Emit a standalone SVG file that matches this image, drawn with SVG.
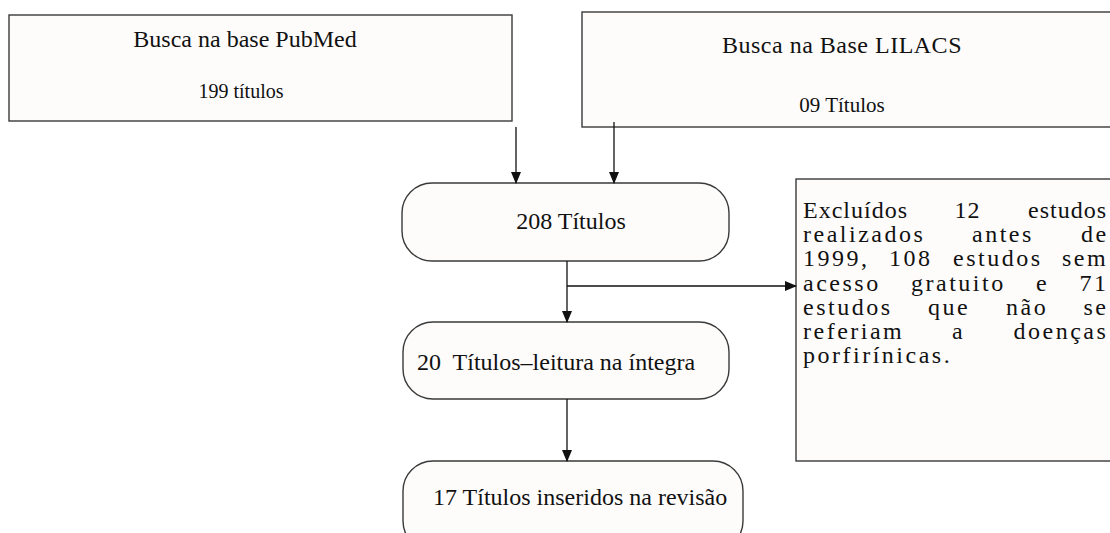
<svg xmlns="http://www.w3.org/2000/svg" width="1110" height="533" viewBox="0 0 1110 533">
<defs>
<marker id="ah" markerWidth="12" markerHeight="10" refX="11" refY="5" orient="auto" markerUnits="userSpaceOnUse">
<path d="M0,0 L12,5 L0,10 Z" fill="#111"/>
</marker>
<style>
.box{fill:#fdfcfb;stroke:#3a3a3a;stroke-width:1.4}
.t{font-family:"Liberation Serif","Times New Roman",serif;fill:#111}
.c{text-anchor:middle}
.ex{font-size:24px;letter-spacing:2.5px}
.conn{stroke:#111;stroke-width:1.3;fill:none;marker-end:url(#ah)}
</style>
</defs>
<rect width="1110" height="533" fill="#ffffff"/>
<g id="pubmed">
<rect class="box" x="9" y="15" width="503" height="106"/>
<text class="t c" x="245" y="47" font-size="24">Busca na base PubMed</text>
<text class="t c" x="241" y="98" font-size="20">199 títulos</text>
</g>
<g id="lilacs">
<rect class="box" x="582" y="12" width="540" height="115"/>
<text class="t c" x="842" y="53" font-size="24" letter-spacing="0.5">Busca na Base LILACS</text>
<text class="t c" x="842" y="112" font-size="21">09 Títulos</text>
</g>
<g id="n208">
<rect class="box" x="402" y="183" width="327" height="78" rx="30" ry="30"/>
<text class="t c" x="571" y="229" font-size="24">208 Títulos</text>
</g>
<g id="n20">
<rect class="box" x="403" y="322" width="326" height="77" rx="30" ry="30"/>
<text class="t" x="417" y="370" font-size="24" xml:space="preserve">20  Títulos–leitura na íntegra</text>
</g>
<g id="n17">
<rect class="box" x="403" y="461" width="340" height="90" rx="30" ry="30"/>
<text class="t" x="433" y="505" font-size="24">17 Títulos inseridos na revisão</text>
</g>
<g id="excluidos">
<rect class="box" x="796" y="179" width="330" height="282"/>
<g class="t ex">
<text x="803" y="218" letter-spacing="1">Excluídos</text>
<text x="954.5" y="218" letter-spacing="1">12</text>
<text x="1028" y="218" letter-spacing="1">estudos</text>
<text x="803" y="242">realizados</text>
<text x="972" y="242">antes</text>
<text x="1081" y="242">de</text>
<text x="803" y="266">1999,</text>
<text x="889" y="266">108</text>
<text x="953" y="266">estudos</text>
<text x="1062" y="266">sem</text>
<text x="803" y="291">acesso</text>
<text x="911" y="291">gratuito</text>
<text x="1036" y="291">e</text>
<text x="1079.5" y="291">71</text>
<text x="803" y="315">estudos</text>
<text x="928" y="315">que</text>
<text x="1006" y="315">não</text>
<text x="1083.5" y="315">se</text>
<text x="803" y="339">referiam</text>
<text x="952" y="339">a</text>
<text x="1013.5" y="339">doenças</text>
<text x="803" y="363">porfirínicas.</text>
</g>
</g>
<g id="connectors">
<path class="conn" d="M516,127 V183"/>
<path class="conn" d="M614,122 V183"/>
<path class="conn" d="M567,261 V322"/>
<path class="conn" d="M567,286 H796"/>
<path class="conn" d="M567,399 V461"/>
</g>
</svg>
